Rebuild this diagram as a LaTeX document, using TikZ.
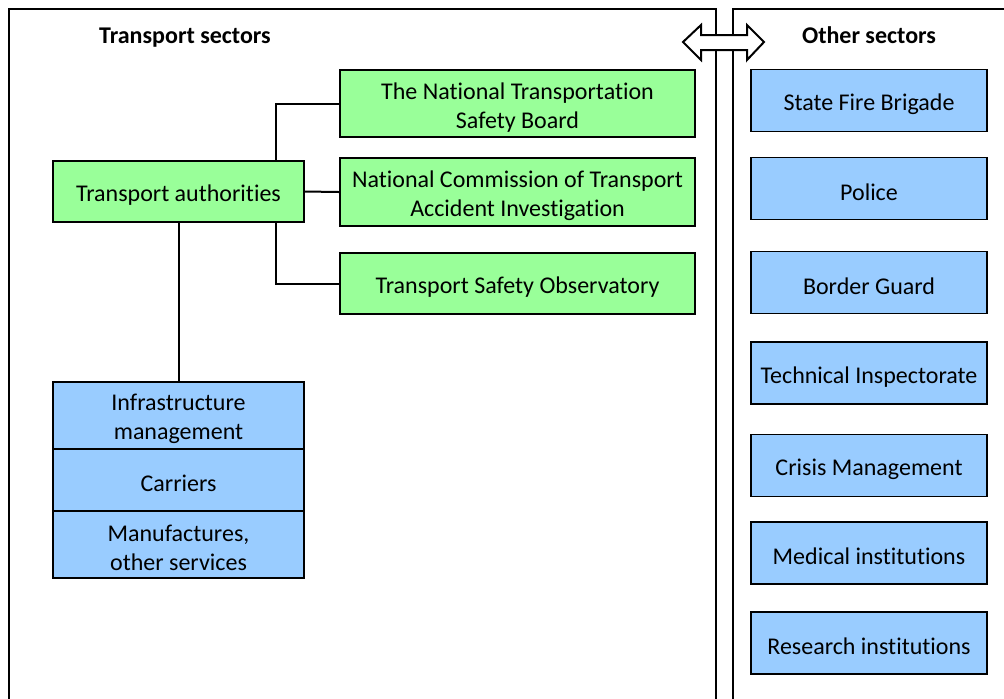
\documentclass[tikz,border=0pt]{standalone}
\usepackage{fontspec}
\setmainfont{Carlito}[Ligatures=NoCommon]
\usetikzlibrary{positioning}

\definecolor{boxgreen}{RGB}{153,255,153}
\definecolor{boxblue}{RGB}{153,204,255}

\newcommand{\boxfont}{\fontsize{12}{14.5}\selectfont}
\newcommand{\lowstrut}{\rule{0pt}{12pt}}

\tikzset{
    panel/.style={line width=1pt},
    anybox/.style={draw, line width=0.8pt, align=center, inner sep=0pt},
    oneline/.style={execute at begin node=\lowstrut},
    greenbox/.style={anybox, fill=boxgreen, minimum width=177.5pt},
    bluebox/.style={anybox, oneline, fill=boxblue, minimum width=118pt,
        minimum height=31pt},
    stackbox/.style={anybox, fill=boxblue, minimum width=125.5pt},
    heading/.style={font=\boxfont\bfseries},
    link/.style={line width=1pt}
}

\begin{document}
\begin{tikzpicture}[x=0.5pt, y=-0.5pt, font=\boxfont]

        % Fix the page to the size of the picture.
        \clip (0, 0) rectangle (1004, 698);

        % The two panels, both open at the bottom.
        \draw[panel] (9, 710) to (9, 9) to (716, 9) to (716, 710);
        \draw[panel] (733, 710) to (733, 9) to (1020, 9);

        % Panel headings.
        \node[heading] (transport) at (185, 38) {Transport sectors};
        \node[heading] (other)     at (869, 35) {Other sectors};

        % Transport authorities and the bodies under them.
        \node[greenbox, oneline, minimum width=125.5pt, minimum height=30.5pt]
            (auth) at (178.5, 191.5) {Transport authorities};
        \node[greenbox, minimum height=33.5pt] (ntsb) at (517.5, 103.5)
            {\lowstrut The National Transportation\\Safety Board};
        \node[greenbox, minimum height=34pt] (ncta) at (517.5, 192)
            {\lowstrut National Commission of Transport\\Accident Investigation};
        \node[greenbox, oneline, minimum height=30.5pt] (tso) at (517.5, 283.5)
            {Transport Safety Observatory};

        % Stack of the sector players.
        \node[stackbox, minimum height=33.5pt] (infra) at (178.5, 415.5)
            {\lowstrut Infrastructure\\management};
        \node[stackbox, oneline, minimum height=31pt] (carriers) at (178.5, 480)
            {Carriers};
        \node[stackbox, minimum height=33.5pt] (manuf) at (178.5, 544.5)
            {\lowstrut Manufactures,\\other services};

        % Lines from the authorities.
        \coordinate (fork) at (276, 191.5);
        \draw[link] (fork |- auth.north) |- (ntsb.west);
        \draw[link] (fork |- auth.south) |- (tso.west);
        \draw[link] (auth.east) to (ncta.west);
        \draw[link] (auth.south) to (infra.north);

        % Other sectors.
        \node[bluebox] (fire)     at (869, 100.5) {State Fire Brigade};
        \node[bluebox] (police)   at (869, 188.5) {Police};
        \node[bluebox] (border)   at (869, 282.5) {Border Guard};
        \node[bluebox] (inspect)  at (869, 373)   {Technical Inspectorate};
        \node[bluebox] (crisis)   at (869, 465.5) {Crisis Management};
        \node[bluebox] (medical)  at (869, 553)   {Medical institutions};
        \node[bluebox] (research) at (869, 643)   {Research institutions};

        % Double arrow between the panels.
        \draw[line width=1pt, fill=white]
            (683, 42) to (701, 25) to (701, 35) to (747, 35) to (747, 25)
            to (764, 42) to (747, 60) to (747, 50) to (701, 50) to (701, 60)
            to cycle;

    \end{tikzpicture}
\end{document}
